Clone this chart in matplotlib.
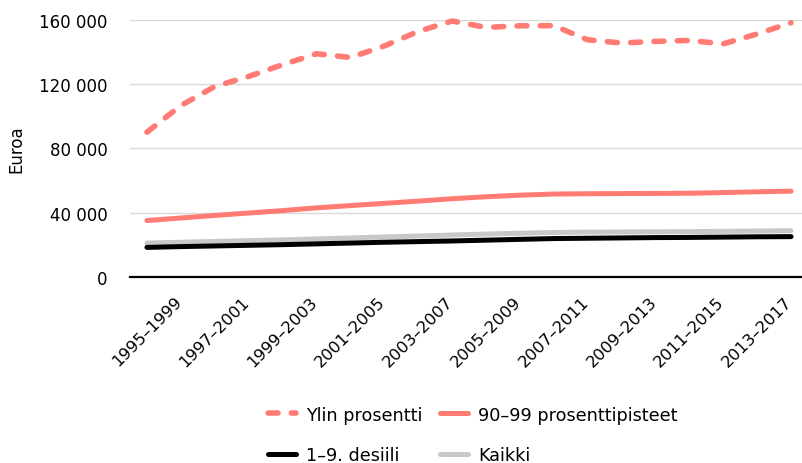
import matplotlib
matplotlib.use("Agg")
import matplotlib.pyplot as plt
from matplotlib.ticker import FixedLocator, FuncFormatter

# ---- data ----
periods = ["1995–1999", "1996–2000", "1997–2001", "1998–2002", "1999–2003",
           "2000–2004", "2001–2005", "2002–2006", "2003–2007", "2004–2008",
           "2005–2009", "2006–2010", "2007–2011", "2008–2012", "2009–2013",
           "2010–2014", "2011–2015", "2012–2016", "2013–2017", "2014–2018"]
ylin_prosentti = [90000, 106600, 118400, 124700, 132000, 138800, 136500, 143600,
                  152700, 159200, 155200, 156200, 156300, 147500, 145500, 146500,
                  147100, 145000, 151100, 158100]
p90_99 = [35000, 36600, 38200, 39700, 41200, 42900, 44300, 45700, 47100, 48600,
          49800, 50800, 51500, 51700, 51800, 51900, 52000, 52400, 52900, 53300]
desiili_1_9 = [18300, 18800, 19200, 19600, 20000, 20500, 21000, 21500, 21900, 22300,
               22800, 23300, 23800, 24000, 24200, 24400, 24500, 24700, 24900, 25000]
kaikki = [21000, 21500, 22000, 22500, 23000, 23600, 24200, 24800, 25400, 26000,
          26600, 27100, 27600, 27800, 27900, 28000, 28100, 28300, 28500, 28700]
y_ticks = [0, 40000, 80000, 120000, 160000]
label_every = 2

names = ["Ylin prosentti", "90–99 prosenttipisteet", "1–9. desiili", "Kaikki"]

salmon = "#FF7B74"
grey = "#C8C8C8"

fig = plt.figure(figsize=(8.03, 4.64), dpi=100)
W, H = 803, 464
ax_left, ax_right = 130, 808
ax_bottom, ax_top = 277.8, 20.7
ax = fig.add_axes([ax_left / W, 1 - ax_bottom / H,
                   (ax_right - ax_left) / W, (ax_bottom - ax_top) / H])

x = list(range(len(periods)))

l_dash, = ax.plot(x, ylin_prosentti, color=salmon, lw=4.0, dashes=(1.8, 2.4),
                  dash_capstyle="round", solid_capstyle="round", clip_on=False, zorder=5)
l_9099, = ax.plot(x, p90_99, color=salmon, lw=3.6, solid_capstyle="round",
                  clip_on=False, zorder=4)
l_kaikki, = ax.plot(x, kaikki, color=grey, lw=3.6, solid_capstyle="round",
                    clip_on=False, zorder=2)
l_des, = ax.plot(x, desiili_1_9, color="black", lw=3.6, solid_capstyle="round",
                 clip_on=False, zorder=3)

ax.set_xlim(-0.5, len(periods) - 0.5)
ax.set_ylim(0, 160000)

ax.yaxis.set_major_locator(FixedLocator(y_ticks))
ax.yaxis.set_major_formatter(FuncFormatter(lambda v, p: f"{int(v):,}".replace(",", " ")))
ax.grid(axis="y", color="#D9D9D9", lw=1.0)
ax.set_axisbelow(True)

ax.set_xticks(x[::label_every])
ax.set_xticklabels(periods[::label_every], rotation=45, ha="center", rotation_mode="default")

for s in ["top", "right", "left"]:
    ax.spines[s].set_visible(False)
ax.spines["bottom"].set_color("black")
ax.spines["bottom"].set_linewidth(1.6)
ax.spines["bottom"].set_zorder(6)

ax.tick_params(axis="y", length=0, pad=16, labelsize=12)
ax.tick_params(axis="x", length=0, pad=12, labelsize=11.8)

ax.set_ylabel("Euroa", fontsize=12)
ax.yaxis.set_label_coords((25 - ax_left) / (ax_right - ax_left), 0.5)

fig.legend([l_dash, l_des, l_9099, l_kaikki],
           [names[0], names[2], names[1], names[3]],
           ncol=2, loc="center", bbox_to_anchor=(473 / W, 1 - 436 / H),
           frameon=False, fontsize=12.7, handlelength=1.55, handletextpad=0.6,
           columnspacing=1.0, labelspacing=1.3)

fig.savefig("out.png", dpi=100)
